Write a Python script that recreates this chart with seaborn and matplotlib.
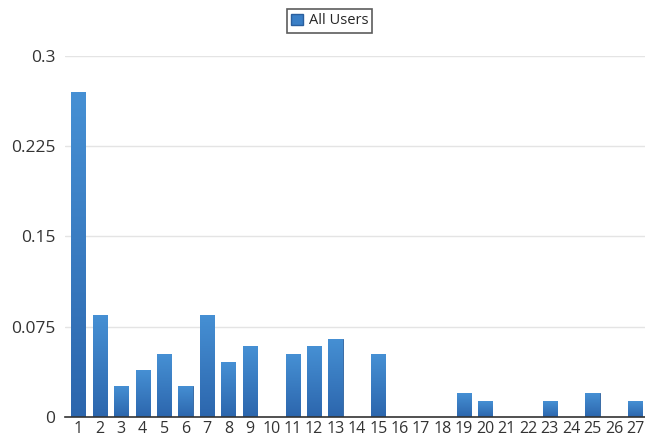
import numpy as np
import pandas as pd
import seaborn as sns
import matplotlib.pyplot as plt
from matplotlib.patches import Patch

# values
positions = [str(i) for i in range(1, 28)]
share = [0.27, 0.085, 0.026, 0.039, 0.052, 0.026, 0.085, 0.0455, 0.0585, 0.0,
         0.052, 0.0585, 0.065, 0.0, 0.052, 0.0, 0.0, 0.0, 0.0195, 0.013,
         0.0, 0.0, 0.013, 0.0, 0.0195, 0.0, 0.013]
yticks = [0, 0.075, 0.15, 0.225, 0.3]
ytick_labels = ["0", "0.075", "0.15", "0.225", "0.3"]

data = pd.DataFrame({"position": positions, "share": share})

sns.set_theme(style="white")
plt.rcParams['font.family'] = ['Open Sans', 'DejaVu Sans']

fig = plt.figure(figsize=(6.45, 4.36), dpi=100)
ax = fig.add_axes([0.101, 0.044, 0.899, 0.828])

sns.barplot(data=data, x="position", y="share", color="#3477c0",
            width=0.66, ax=ax, zorder=3)

# vertical gradient fill on the bars
grad = np.linspace(0, 1, 256).reshape(-1, 1)
cmap = sns.blend_palette(["#2c66ad", "#4690d4"], as_cmap=True)
for bar in ax.patches:
    h = bar.get_height()
    if h <= 0:
        continue
    x0 = bar.get_x()
    w = bar.get_width()
    im = ax.imshow(grad, extent=[x0, x0 + w, 0, h], origin="lower",
                   aspect="auto", cmap=cmap, zorder=4)
    im.set_clip_path(bar)
    bar.set_edgecolor("#2a5f9e")
    bar.set_linewidth(0.6)

ax.set_xlim(-0.62, 26.45)
ax.set_ylim(0, 0.3)
ax.set_yticks(yticks)
ax.set_yticklabels(ytick_labels)
ax.set_xlabel("")
ax.set_ylabel("")
ax.grid(axis="y", color="#e4e4e4", linewidth=1, zorder=0)
ax.tick_params(axis="y", length=0, pad=7, labelsize=12.5, labelcolor="#333333")
ax.tick_params(axis="x", length=0, pad=3, labelsize=11.5, labelcolor="#333333")
for s in ["top", "right", "left"]:
    ax.spines[s].set_visible(False)
ax.spines["bottom"].set_color("#333333")
ax.spines["bottom"].set_linewidth(1.2)
ax.spines["bottom"].set_zorder(5)

handle = Patch(facecolor="#3a7fc6", edgecolor="#2a5f9e", label="All Users")
leg = fig.legend(handles=[handle], loc="center", bbox_to_anchor=(0.511, 0.952),
                 frameon=True, fancybox=False, fontsize=10.5, handlelength=0.8,
                 handleheight=0.8, handletextpad=0.4, borderpad=0.3)
leg.get_frame().set_edgecolor("#333333")
leg.get_frame().set_linewidth(1.2)

fig.savefig("out.png", dpi=100)
